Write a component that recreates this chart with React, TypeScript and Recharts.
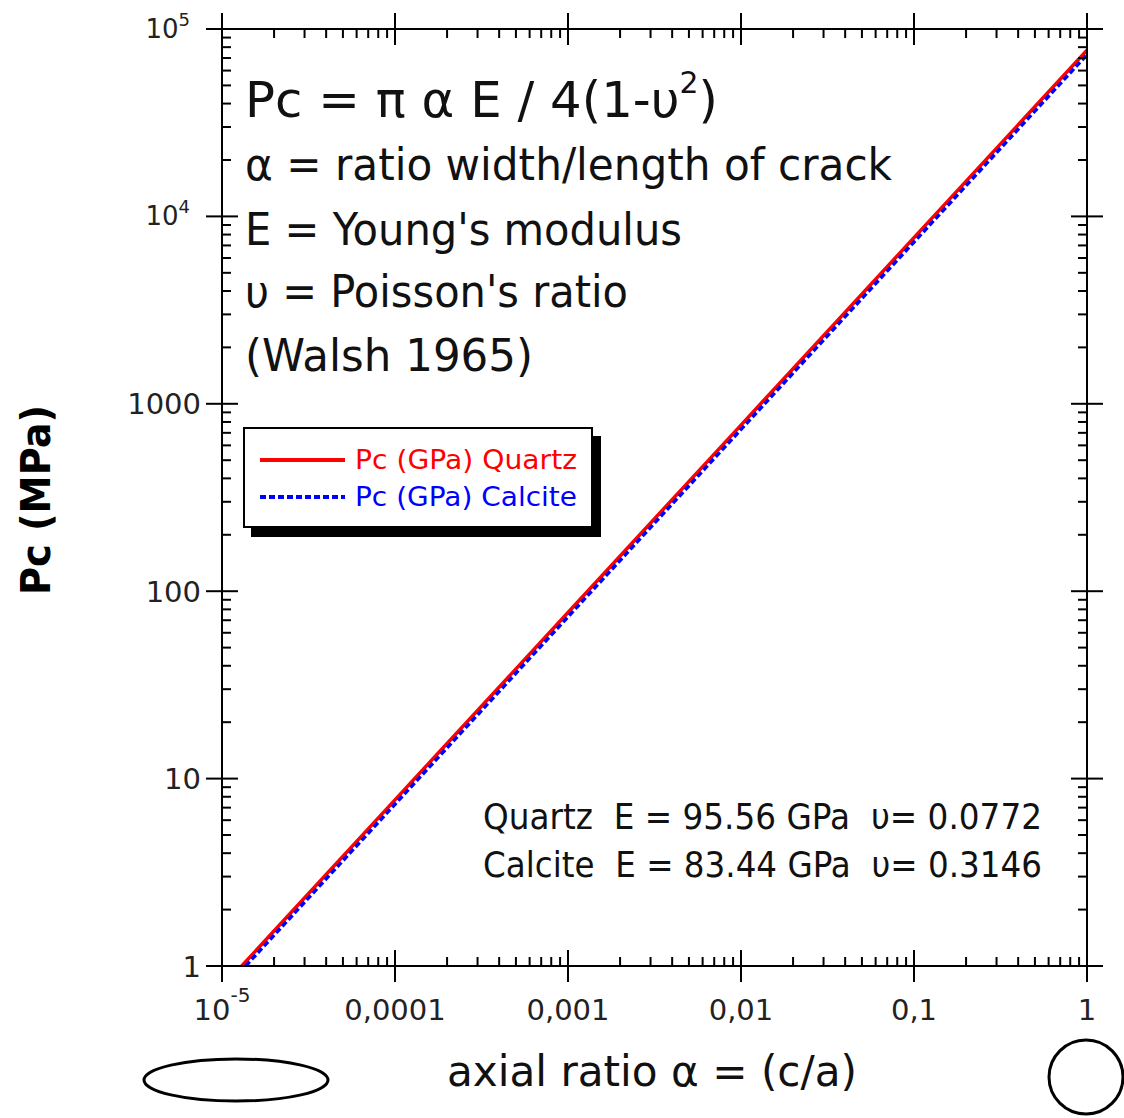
import React from 'react';
import { ComposedChart, Line, XAxis, YAxis, Legend } from 'recharts';

// ---- data ----
const quartzAlpha = [1.3e-5, 1e-4, 1e-3, 1e-2, 1e-1, 1];
const quartzPc = [1, 7.7, 77, 770, 7700, 77000];
const calciteAlpha = [1.37e-5, 1e-4, 1e-3, 1e-2, 1e-1, 1];
const calcitePc = [1, 7.3, 73, 730, 7300, 73000];

const xMajorTicks = [1e-5, 1e-4, 1e-3, 1e-2, 1e-1, 1];
const xTickLabels: string[][] = [['10', '-5'], ['0,0001'], ['0,001'], ['0,01'], ['0,1'], ['1']];
const yMajorTicks = [1, 10, 100, 1000, 1e4, 1e5];
const yTickLabels: string[][] = [['1'], ['10'], ['100'], ['1000'], ['10', '4'], ['10', '5']];
const minorMultipliers = [2, 3, 4, 5, 6, 7, 8, 9];

const seriesNames = ['Pc (GPa) Quartz', 'Pc (GPa) Calcite'];
const seriesColors = ['#ff0000', '#0000ff'];
const seriesDash = [undefined, '6 3'];

const formulaMain = 'Pc = π α E / 4(1-υ';
const formulaSup = '2';
const formulaEnd = ')';
const annotationLines = [
  'α = ratio width/length of crack',
  "E = Young's modulus",
  "υ = Poisson's ratio",
  '(Walsh 1965)',
];
const materialLines = [
  'Quartz  E = 95.56 GPa  υ= 0.0772',
  'Calcite  E = 83.44 GPa  υ= 0.3146',
];
const xAxisTitle = 'axial ratio α = (c/a)';
const yAxisTitle = 'Pc (MPa)';

const quartzData = quartzAlpha.map((a, i) => ({ a, p: quartzPc[i] }));
const calciteData = calciteAlpha.map((a, i) => ({ a, p: calcitePc[i] }));

const withMinors = (majors: number[]) => {
  const out: number[] = [];
  majors.forEach((m, i) => {
    out.push(m);
    if (i < majors.length - 1) minorMultipliers.forEach((k) => out.push(k * m));
  });
  return out.sort((p, q) => p - q);
};
const xTicks = withMinors(xMajorTicks);
const yTicks = withMinors(yMajorTicks);

const SANS = "'DejaVu Sans', 'Open Sans', sans-serif";

const majorIndex = (arr: number[], v: number) => arr.findIndex((m) => Math.abs(v / m - 1) < 1e-6);

const makeTick = (side: 'bottom' | 'top' | 'left' | 'right') => (props: any) => {
  const { x, y, payload } = props;
  const v = payload.value;
  const horiz = side === 'bottom' || side === 'top';
  const idx = majorIndex(horiz ? xMajorTicks : yMajorTicks, v);
  const major = idx >= 0;
  const L = 16;
  const m = 9;
  let line: any;
  if (horiz) {
    if (major) line = <line x1={x} x2={x} y1={y - L} y2={y + L} stroke="#000" strokeWidth={2} />;
    else line = <line x1={x} x2={x} y1={y} y2={side === 'bottom' ? y - m : y + m} stroke="#000" strokeWidth={2} />;
  } else {
    if (major) line = <line x1={x - L} x2={x + L} y1={y} y2={y} stroke="#000" strokeWidth={2} />;
    else line = <line x1={x} x2={side === 'left' ? x + m : x - m} y1={y} y2={y} stroke="#000" strokeWidth={2} />;
  }
  let label: any = null;
  if (major && side === 'bottom') {
    const lab = xTickLabels[idx];
    label = (
      <text x={x} y={y + 54} textAnchor="middle" fontFamily={SANS} fontSize={29} fill="#222">
        {lab.length > 1 ? (
          <>
            <tspan>{lab[0]}</tspan>
            <tspan fontSize={20} dy={-18}>{lab[1]}</tspan>
          </>
        ) : (
          lab[0]
        )}
      </text>
    );
  }
  if (major && side === 'left') {
    const lab = yTickLabels[idx];
    label =
      lab.length > 1 ? (
        <text x={x - 32} y={y + 9} textAnchor="end" fontFamily={SANS} fontSize={26} fill="#222">
          <tspan>{lab[0]}</tspan>
          <tspan fontSize={18} dy={-12}>{lab[1]}</tspan>
        </text>
      ) : (
        <text x={x - 21} y={y + 10.5} textAnchor="end" fontFamily={SANS} fontSize={29} fill="#222">
          {lab[0]}
        </text>
      );
  }
  return (
    <g>
      {line}
      {label}
    </g>
  );
};

const renderLegend = () => {
  return (
    <div style={{ width: 360, height: 112, position: 'relative' }}>
      <svg width={360} height={112} style={{ position: 'absolute', left: 0, top: 0 }}>
        <rect x={8} y={9} width={350} height={101} fill="#000" />
        <rect x={1} y={1} width={348} height={99} fill="#fff" stroke="#000" strokeWidth={2} />
        {seriesNames.map((name, i) => {
          const cy = 33 + i * 37;
          return (
            <g key={i}>
              <line x1={17} x2={102} y1={cy} y2={cy} stroke={seriesColors[i]} strokeWidth={4} strokeDasharray={seriesDash[i]} />
              <text x={112} y={cy + 9} fontFamily={SANS} fontSize={26} fill={seriesColors[i]} textLength={222}
                lengthAdjust="spacingAndGlyphs">
                {name}
              </text>
            </g>
          );
        })}
      </svg>
    </div>
  );
};

export default function App() {
  return (
    <div style={{ position: 'absolute', left: 0, top: 0, width: 1124, height: 1118, background: '#fff' }}>
      <ComposedChart width={1124} height={1118} margin={{ top: 9, right: 7, bottom: 52, left: 22 }}>
        <XAxis xAxisId="bottom" orientation="bottom" dataKey="a" type="number" scale="log" domain={[1e-5, 1]} allowDataOverflow
          ticks={xTicks} interval={0} height={100} tickSize={0} tickMargin={0} tickLine={false}
          axisLine={{ stroke: '#000', strokeWidth: 2 }} tick={makeTick('bottom')} />
        <XAxis xAxisId="top" orientation="top" dataKey="a" type="number" scale="log" domain={[1e-5, 1]} allowDataOverflow
          ticks={xTicks} interval={0} height={20} tickSize={0} tickMargin={0} tickLine={false}
          axisLine={{ stroke: '#000', strokeWidth: 2 }} tick={makeTick('top')} />
        <YAxis yAxisId="left" orientation="left" type="number" scale="log" domain={[1, 1e5]} allowDataOverflow
          ticks={yTicks} interval={0} width={200} tickSize={0} tickMargin={0} tickLine={false}
          axisLine={{ stroke: '#000', strokeWidth: 2 }} tick={makeTick('left')} />
        <YAxis yAxisId="right" orientation="right" type="number" scale="log" domain={[1, 1e5]} allowDataOverflow
          ticks={yTicks} interval={0} width={30} tickSize={0} tickMargin={0} tickLine={false}
          axisLine={{ stroke: '#000', strokeWidth: 2 }} tick={makeTick('right')} />
        <Line data={quartzData} xAxisId="bottom" yAxisId="left" dataKey="p" name={seriesNames[0]} stroke={seriesColors[0]}
          strokeWidth={3.5} dot={false} activeDot={false} isAnimationActive={false} type="linear" />
        <Line data={calciteData} xAxisId="bottom" yAxisId="left" dataKey="p" name={seriesNames[1]} stroke={seriesColors[1]}
          strokeWidth={3.5} strokeDasharray={seriesDash[1]} dot={false} activeDot={false} isAnimationActive={false} type="linear" />
        <Legend layout="vertical" align="center" verticalAlign="middle" content={renderLegend}
          wrapperStyle={{ left: 243, top: 427, width: 360, height: 112 }} />
      </ComposedChart>
      <svg width={1124} height={1118} style={{ position: 'absolute', left: 0, top: 0, pointerEvents: 'none' }}>
        <text x={245} y={117} fontFamily={SANS} fontSize={50} fill="#111" textLength={473} lengthAdjust="spacingAndGlyphs">
          {formulaMain}
          <tspan fontSize={30} dy={-24}>{formulaSup}</tspan>
          <tspan dy={24}>{formulaEnd}</tspan>
        </text>
        {annotationLines.map((t, i) => (
          <text key={i} x={245} y={[180, 245, 307, 371][i]} fontFamily={SANS} fontSize={44} fill="#111"
            textLength={[647, 437, 383, 288][i]} lengthAdjust="spacingAndGlyphs">
            {t}
          </text>
        ))}
        {materialLines.map((t, i) => (
          <text key={i} x={483} y={829 + i * 48} fontFamily={SANS} fontSize={35} fill="#111" textLength={559}
            lengthAdjust="spacingAndGlyphs" style={{ whiteSpace: 'pre' }}>
            {t}
          </text>
        ))}
        <text x={447} y={1086} fontFamily={SANS} fontSize={42} fill="#111" textLength={410} lengthAdjust="spacingAndGlyphs">
          {xAxisTitle}
        </text>
        <text x={50} y={500} transform="rotate(-90 50 500)" textAnchor="middle" fontFamily={SANS} fontWeight="bold" fontSize={40}
          fill="#000" textLength={190} lengthAdjust="spacingAndGlyphs">
          {yAxisTitle}
        </text>
        <ellipse cx={236} cy={1080} rx={92} ry={21} fill="none" stroke="#000" strokeWidth={3} />
        <circle cx={1086} cy={1077} r={37} fill="none" stroke="#000" strokeWidth={3} />
      </svg>
    </div>
  );
}
